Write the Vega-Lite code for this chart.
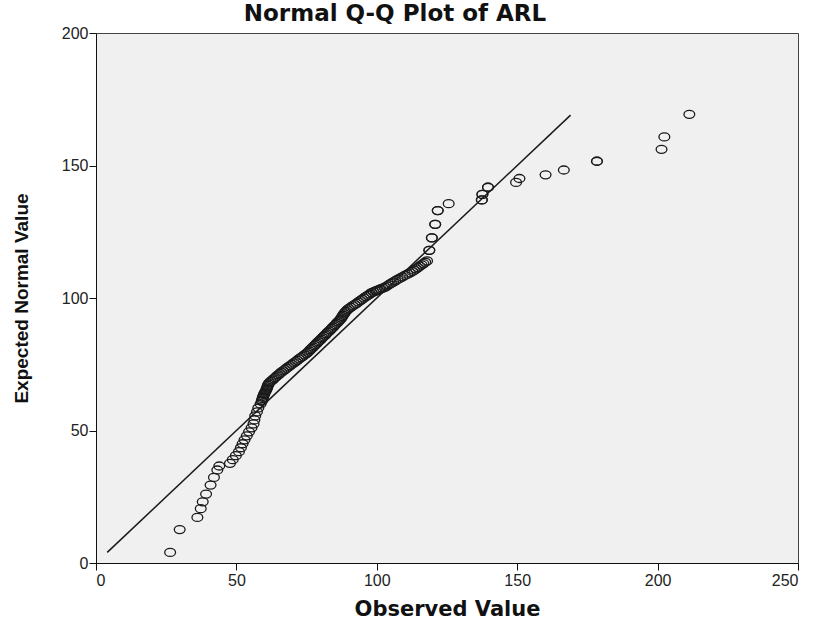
{
  "$schema": "https://vega.github.io/schema/vega-lite/v6.json",
  "autosize": "none",
  "width": 702,
  "height": 530,
  "padding": {"left": 96, "top": 33, "right": 15, "bottom": 65},
  "background": "white",
  "title": {"text": "Normal Q-Q Plot of ARL", "font": "DejaVu Sans", "fontSize": 23, "fontWeight": "bold", "color": "#111", "anchor": "middle", "dx": -52, "dy": 11, "offset": 10},
  "config": {
    "view": {"fill": "#f0f0f0", "stroke": "#444", "strokeWidth": 1},
    "axis": {"grid": false, "domainColor": "#111", "tickColor": "#111", "tickSize": 7, "labelFont": "Liberation Sans", "labelFontSize": 16, "labelColor": "#222", "titleColor": "#111", "titleFontWeight": "bold"}
  },
  "datasets": {
    "points": [
      {"observed": 26.4, "expected": 4.0},
      {"observed": 29.8, "expected": 12.6},
      {"observed": 36.1, "expected": 17.2},
      {"observed": 37.3, "expected": 20.5},
      {"observed": 38.0, "expected": 23.1},
      {"observed": 39.2, "expected": 26.0},
      {"observed": 40.8, "expected": 29.4},
      {"observed": 42.0, "expected": 32.3},
      {"observed": 43.2, "expected": 35.1},
      {"observed": 43.9, "expected": 36.6},
      {"observed": 47.7, "expected": 37.6},
      {"observed": 48.7, "expected": 39.0},
      {"observed": 49.8, "expected": 40.5},
      {"observed": 50.9, "expected": 42.0},
      {"observed": 51.6, "expected": 43.5},
      {"observed": 52.2, "expected": 45.0},
      {"observed": 52.9, "expected": 46.5},
      {"observed": 53.7, "expected": 48.0},
      {"observed": 54.5, "expected": 49.5},
      {"observed": 55.4, "expected": 51.0},
      {"observed": 56.1, "expected": 52.5},
      {"observed": 56.4, "expected": 54.0},
      {"observed": 56.7, "expected": 55.5},
      {"observed": 57.3, "expected": 57.0},
      {"observed": 57.8, "expected": 58.5},
      {"observed": 58.6, "expected": 60.0},
      {"observed": 59.0, "expected": 61.0},
      {"observed": 59.15, "expected": 61.5},
      {"observed": 59.3, "expected": 62.0},
      {"observed": 59.45, "expected": 62.5},
      {"observed": 59.6, "expected": 63.0},
      {"observed": 59.8, "expected": 63.5},
      {"observed": 60.0, "expected": 64.0},
      {"observed": 60.25, "expected": 64.5},
      {"observed": 60.5, "expected": 65.0},
      {"observed": 60.7, "expected": 65.5},
      {"observed": 60.9, "expected": 66.0},
      {"observed": 61.05, "expected": 66.5},
      {"observed": 61.2, "expected": 67.0},
      {"observed": 61.45, "expected": 67.5},
      {"observed": 61.7, "expected": 68.0},
      {"observed": 62.25, "expected": 68.5},
      {"observed": 62.8, "expected": 69.0},
      {"observed": 63.3, "expected": 69.5},
      {"observed": 63.8, "expected": 70.0},
      {"observed": 64.35, "expected": 70.5},
      {"observed": 64.9, "expected": 71.0},
      {"observed": 65.45, "expected": 71.5},
      {"observed": 66.0, "expected": 72.0},
      {"observed": 66.65, "expected": 72.5},
      {"observed": 67.3, "expected": 73.0},
      {"observed": 67.9, "expected": 73.5},
      {"observed": 68.5, "expected": 74.0},
      {"observed": 69.15, "expected": 74.5},
      {"observed": 69.8, "expected": 75.0},
      {"observed": 70.45, "expected": 75.5},
      {"observed": 71.1, "expected": 76.0},
      {"observed": 71.7, "expected": 76.5},
      {"observed": 72.3, "expected": 77.0},
      {"observed": 72.95, "expected": 77.5},
      {"observed": 73.6, "expected": 78.0},
      {"observed": 74.25, "expected": 78.5},
      {"observed": 74.9, "expected": 79.0},
      {"observed": 75.4, "expected": 79.5},
      {"observed": 75.9, "expected": 80.0},
      {"observed": 76.35, "expected": 80.5},
      {"observed": 76.8, "expected": 81.0},
      {"observed": 77.3, "expected": 81.5},
      {"observed": 77.8, "expected": 82.0},
      {"observed": 78.25, "expected": 82.5},
      {"observed": 78.7, "expected": 83.0},
      {"observed": 79.2, "expected": 83.5},
      {"observed": 79.7, "expected": 84.0},
      {"observed": 80.15, "expected": 84.5},
      {"observed": 80.6, "expected": 85.0},
      {"observed": 81.1, "expected": 85.5},
      {"observed": 81.6, "expected": 86.0},
      {"observed": 82.05, "expected": 86.5},
      {"observed": 82.5, "expected": 87.0},
      {"observed": 83.0, "expected": 87.5},
      {"observed": 83.5, "expected": 88.0},
      {"observed": 83.95, "expected": 88.5},
      {"observed": 84.4, "expected": 89.0},
      {"observed": 84.85, "expected": 89.5},
      {"observed": 85.3, "expected": 90.0},
      {"observed": 85.75, "expected": 90.5},
      {"observed": 86.2, "expected": 91.0},
      {"observed": 86.65, "expected": 91.5},
      {"observed": 87.1, "expected": 92.0},
      {"observed": 87.4, "expected": 92.5},
      {"observed": 87.7, "expected": 93.0},
      {"observed": 88.0, "expected": 93.5},
      {"observed": 88.3, "expected": 94.0},
      {"observed": 88.65, "expected": 94.5},
      {"observed": 89.0, "expected": 95.0},
      {"observed": 89.5, "expected": 95.5},
      {"observed": 90.0, "expected": 96.0},
      {"observed": 90.7, "expected": 96.5},
      {"observed": 91.4, "expected": 97.0},
      {"observed": 92.1, "expected": 97.5},
      {"observed": 92.8, "expected": 98.0},
      {"observed": 93.45, "expected": 98.5},
      {"observed": 94.1, "expected": 99.0},
      {"observed": 94.75, "expected": 99.5},
      {"observed": 95.4, "expected": 100.0},
      {"observed": 96.1, "expected": 100.5},
      {"observed": 96.8, "expected": 101.0},
      {"observed": 97.5, "expected": 101.5},
      {"observed": 98.2, "expected": 102.0},
      {"observed": 98.85, "expected": 102.3},
      {"observed": 99.5, "expected": 102.6},
      {"observed": 99.95, "expected": 102.8},
      {"observed": 100.4, "expected": 103.0},
      {"observed": 100.9, "expected": 103.2},
      {"observed": 101.4, "expected": 103.4},
      {"observed": 102.1, "expected": 103.7},
      {"observed": 102.8, "expected": 104.0},
      {"observed": 103.55, "expected": 104.5},
      {"observed": 104.3, "expected": 105.0},
      {"observed": 105.05, "expected": 105.5},
      {"observed": 105.8, "expected": 106.0},
      {"observed": 106.6, "expected": 106.5},
      {"observed": 107.4, "expected": 107.0},
      {"observed": 108.25, "expected": 107.5},
      {"observed": 109.1, "expected": 108.0},
      {"observed": 110.0, "expected": 108.5},
      {"observed": 110.9, "expected": 109.0},
      {"observed": 111.8, "expected": 109.5},
      {"observed": 112.7, "expected": 110.0},
      {"observed": 113.35, "expected": 110.5},
      {"observed": 114.0, "expected": 111.0},
      {"observed": 114.65, "expected": 111.5},
      {"observed": 115.3, "expected": 112.0},
      {"observed": 115.95, "expected": 112.5},
      {"observed": 116.6, "expected": 113.0},
      {"observed": 117.25, "expected": 113.5},
      {"observed": 117.9, "expected": 114.0},
      {"observed": 118.7, "expected": 118.0},
      {"observed": 118.7, "expected": 118.0},
      {"observed": 119.6, "expected": 122.7},
      {"observed": 119.6, "expected": 122.7},
      {"observed": 120.8, "expected": 127.8},
      {"observed": 120.8, "expected": 127.8},
      {"observed": 121.7, "expected": 133.0},
      {"observed": 121.7, "expected": 133.0},
      {"observed": 125.6, "expected": 135.6},
      {"observed": 137.4, "expected": 137.0},
      {"observed": 137.4, "expected": 137.0},
      {"observed": 137.6, "expected": 139.1},
      {"observed": 137.6, "expected": 139.1},
      {"observed": 139.6, "expected": 141.8},
      {"observed": 139.6, "expected": 141.8},
      {"observed": 149.6, "expected": 143.6},
      {"observed": 150.8, "expected": 145.1},
      {"observed": 160.1, "expected": 146.5},
      {"observed": 166.6, "expected": 148.3},
      {"observed": 178.4, "expected": 151.6},
      {"observed": 178.4, "expected": 151.6},
      {"observed": 201.4, "expected": 156.1},
      {"observed": 202.4, "expected": 160.8},
      {"observed": 211.3, "expected": 169.3}
    ],
    "refline": [
      {"observed": 4, "expected": 4},
      {"observed": 169, "expected": 169}
    ]
  },
  "encoding": {
    "x": {"field": "observed", "type": "quantitative", "scale": {"domain": [0, 250], "nice": false, "zero": false},
      "axis": {"values": [0, 50, 100, 150, 200, 250], "title": "Observed Value", "titleFont": "DejaVu Sans", "titleFontSize": 21, "titlePadding": 10, "labelPadding": 2}},
    "y": {"field": "expected", "type": "quantitative", "scale": {"domain": [0, 200], "nice": false, "zero": false},
      "axis": {"values": [0, 50, 100, 150, 200], "title": "Expected Normal Value", "titleFont": "Liberation Sans", "titleFontSize": 19, "titlePadding": 30, "labelPadding": 1}}
  },
  "layer": [
    {
      "data": {"name": "refline"},
      "mark": {"type": "line", "color": "#1a1a1a", "strokeWidth": 1.5}
    },
    {
      "data": {"name": "points"},
      "mark": {"type": "point", "shape": "M-1.35,0A1.35,1,0,1,0,1.35,0A1.35,1,0,1,0,-1.35,0Z", "size": 64, "filled": false, "stroke": "#1a1a1a", "strokeWidth": 1.3, "opacity": 1}
    }
  ]
}
